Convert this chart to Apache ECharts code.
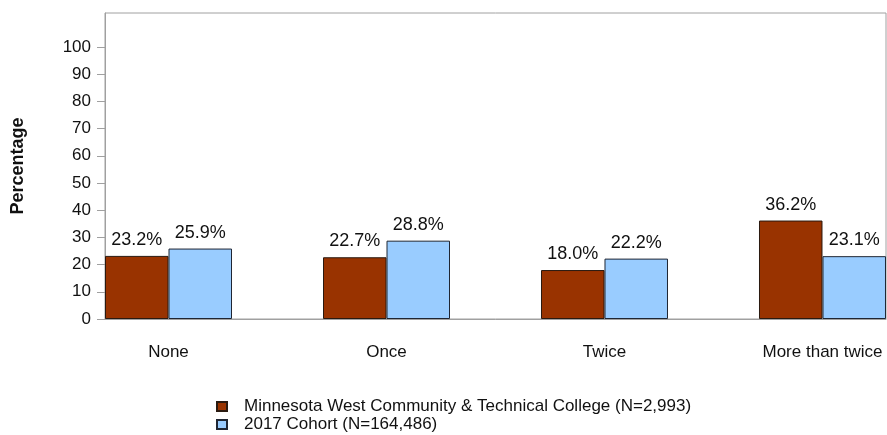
<!DOCTYPE html>
<html>
<head>
<meta charset="utf-8">
<script src="https://cdn.jsdelivr.net/npm/echarts@6/dist/echarts.min.js"></script>
<style>
  html, body { margin: 0; padding: 0; background: #fff; }
  #chart { width: 887px; height: 435px; }
</style>
</head>
<body>
<div id="chart"></div>
<script>
const categories = ['None', 'Once', 'Twice', 'More than twice'];
const collegeName = 'Minnesota West Community & Technical College (N=2,993)';
const cohortName = '2017 Cohort (N=164,486)';
const collegeValues = [23.2, 22.7, 18.0, 36.2];
const cohortValues = [25.9, 28.8, 22.2, 23.1];
const yTicks = [0, 10, 20, 30, 40, 50, 60, 70, 80, 90, 100];

const font = 'Liberation Sans, Arial, sans-serif';
const chart = echarts.init(document.getElementById('chart'));

const pct = p => p.value[1].toFixed(1) + '%';
const toPairs = arr => arr.map((v, i) => [i, v]);

// one legend per row so the rows sit exactly where the reference has them
const legendRow = (name, top) => ({
  left: 211,
  top: top,
  itemWidth: 10,
  itemHeight: 9,
  icon: 'rect',
  textStyle: { fontSize: 17, color: '#111', fontFamily: font, padding: [0, 0, 0, 12] },
  data: [name]
});

const option = {
  animation: false,
  textStyle: { fontFamily: font, color: '#111' },
  grid: {
    left: 105, right: 1, top: 13, bottom: 116,
    show: true, borderColor: '#a0a0a0', borderWidth: 1
  },
  legend: [legendRow(collegeName, 393), legendRow(cohortName, 411)],
  xAxis: {
    type: 'value',
    min: -0.2913,
    max: 3.2913,
    splitLine: { show: false },
    axisLine: { show: true, onZero: false, lineStyle: { color: '#a0a0a0' } },
    axisTick: { show: false },
    axisLabel: {
      customValues: [0, 1, 2, 3],
      formatter: v => categories[Math.round(v)] || '',
      fontSize: 17,
      color: '#111',
      margin: 25
    }
  },
  yAxis: {
    type: 'value',
    min: 0,
    max: 112.5,
    name: 'Percentage',
    nameLocation: 'middle',
    nameGap: 78,
    nameTextStyle: { fontSize: 18, fontWeight: 'bold', color: '#111' },
    splitLine: { show: false },
    axisLine: { show: true, onZero: false, lineStyle: { color: '#a0a0a0' } },
    axisTick: { show: true, length: 8, customValues: yTicks, lineStyle: { color: '#a0a0a0' } },
    axisLabel: { customValues: yTicks, fontSize: 17, color: '#111', margin: 14 }
  },
  series: [
    {
      name: collegeName,
      type: 'bar',
      barWidth: 63.5,
      barGap: '0%',
      data: toPairs(collegeValues),
      itemStyle: { color: '#993300', borderColor: '#2a1a10', borderWidth: 1 },
      label: { show: true, position: 'top', distance: 7, fontSize: 18, color: '#111', formatter: pct }
    },
    {
      name: cohortName,
      type: 'bar',
      barWidth: 63.5,
      barGap: '0%',
      data: toPairs(cohortValues),
      itemStyle: { color: '#99ccff', borderColor: '#1f2633', borderWidth: 1 },
      label: { show: true, position: 'top', distance: 7, fontSize: 18, color: '#111', formatter: pct }
    }
  ]
};

chart.setOption(option);
</script>
</body>
</html>
